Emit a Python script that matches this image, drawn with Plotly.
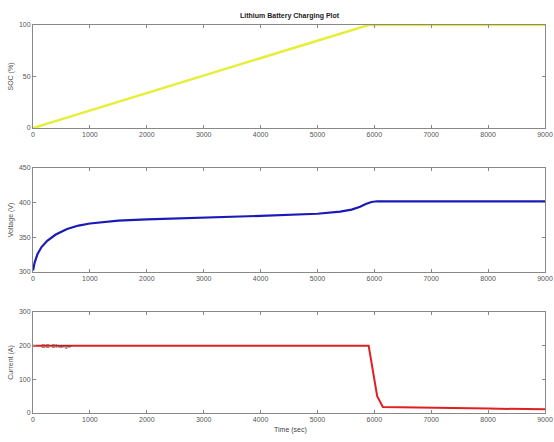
import plotly.graph_objects as go
from plotly.subplots import make_subplots

# ---- data ----
soc_time = [0, 5900, 9000]
soc_pct = [0, 100, 100]

volt_time = [0, 30, 80, 150, 250, 400, 600, 800, 1000, 1500, 2000, 3000, 4000, 5000, 5400, 5600, 5750, 5850, 5950, 6050, 9000]
volt_v = [302, 314, 326, 336, 345, 354, 362, 367, 370, 374, 376, 378, 381, 384, 387, 390, 394, 398, 401, 402, 402]

curr_time = [0, 5900, 5950, 6050, 6150, 7000, 8000, 9000]
curr_a = [200, 200, 150, 50, 18, 15, 13, 11]

x_ticks = [0, 1000, 2000, 3000, 4000, 5000, 6000, 7000, 8000, 9000]
soc_ticks = [0, 50, 100]
volt_ticks = [300, 350, 400, 450]
curr_ticks = [0, 100, 200, 300]

title_text = "Lithium Battery Charging Plot"
phase_label = "CC Charge"

fig = make_subplots(rows=3, cols=1)

fig.add_trace(go.Scatter(x=soc_time, y=soc_pct, mode="lines", cliponaxis=False,
                         line=dict(color="#e6ee3a", width=2.5)), row=1, col=1)
fig.add_trace(go.Scatter(x=volt_time, y=volt_v, mode="lines",
                         line=dict(color="#1a1ab8", width=2.2)), row=2, col=1)
fig.add_trace(go.Scatter(x=curr_time, y=curr_a, mode="lines", cliponaxis=False,
                         line=dict(color="#e02020", width=2)), row=3, col=1)

axis_font = dict(family="Liberation Sans, Arial", size=7, color="#555555")
common_x = dict(range=[0, 9000], tickvals=x_ticks, ticks="inside", ticklen=3,
                showline=True, linecolor="#888888", linewidth=1, mirror="ticks",
                showgrid=False, zeroline=False, tickfont=axis_font, tickcolor="#888888",
                automargin=False)
common_y = dict(ticks="inside", ticklen=3, showline=True, linecolor="#888888",
                linewidth=1, mirror="ticks", showgrid=False, zeroline=False,
                tickfont=axis_font, tickcolor="#888888", automargin=False)

xd = [33 / 554, 545 / 554]
H = 442.0
fig.update_layout(
    xaxis=dict(domain=xd, **common_x),
    xaxis2=dict(domain=xd, **common_x),
    xaxis3=dict(domain=xd, **common_x),
    yaxis=dict(domain=[1 - 128 / H, 1 - 25 / H], range=[0, 100], tickvals=soc_ticks,
               title=dict(text="SOC (%)", font=axis_font, standoff=4), **common_y),
    yaxis2=dict(domain=[1 - 272 / H, 1 - 168 / H], range=[300, 450], tickvals=volt_ticks,
                title=dict(text="Voltage (V)", font=axis_font, standoff=4), **common_y),
    yaxis3=dict(domain=[1 - 413 / H, 1 - 312 / H], range=[0, 300], tickvals=curr_ticks,
                title=dict(text="Current (A)", font=axis_font, standoff=4), **common_y),
    width=554, height=442,
    margin=dict(l=0, r=0, t=0, b=0),
    paper_bgcolor="white", plot_bgcolor="white",
    showlegend=False,
)

fig.add_annotation(text="<b>" + title_text + "</b>", xref="paper", yref="paper",
                   x=(290 / 554), y=1 - 10 / H, showarrow=False,
                   font=dict(family="Liberation Sans, Arial", size=7, color="#222222"))
fig.add_annotation(text="Time (sec)", xref="paper", yref="paper",
                   x=290 / 554, y=1 - 436 / H, showarrow=False,
                   font=dict(family="Liberation Sans, Arial", size=7, color="#444444"))
fig.add_annotation(text=phase_label, x=100, y=200, xref="x3", yref="y3",
                   xanchor="left", yanchor="middle", showarrow=False,
                   font=dict(family="Liberation Sans, Arial", size=6, color="#663333"))

fig.write_html("out.html", config={"displayModeBar": False},
               post_script="document.body.style.margin='0';document.body.style.overflow='hidden';")
